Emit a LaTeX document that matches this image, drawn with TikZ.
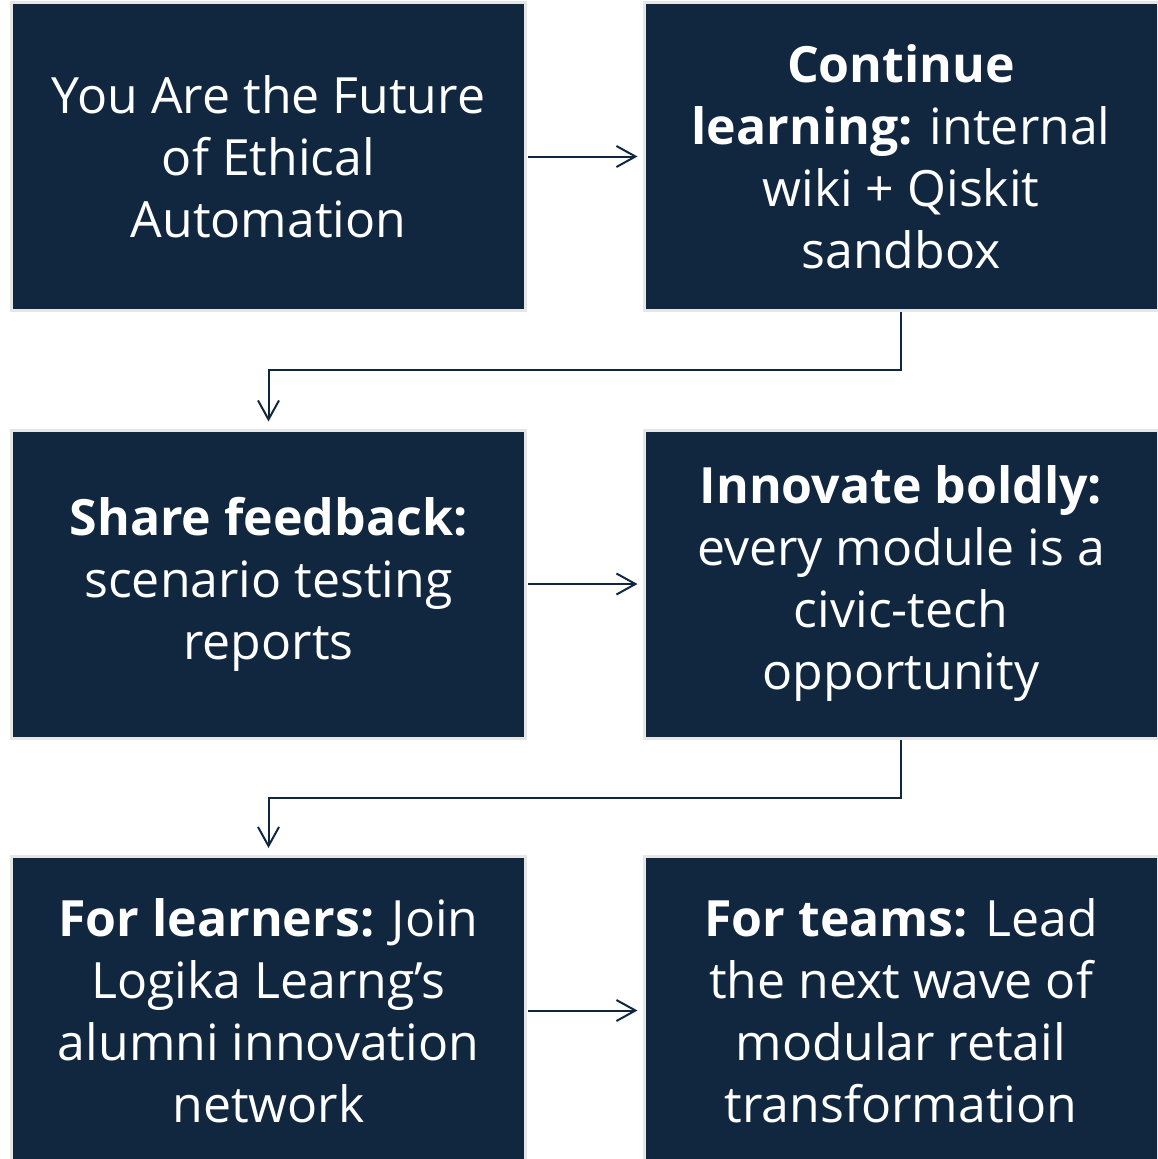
\documentclass[tikz,border=0pt]{standalone}
\usepackage{fontspec}
\setmainfont{Open Sans}
\usetikzlibrary{arrows.meta}
\definecolor{navy}{HTML}{10273F}
\definecolor{rim}{HTML}{E6E6E6}
\begin{document}
\begin{tikzpicture}[x=1pt,y=-1pt,
  card/.style={fill=navy,draw=rim,line width=3pt,minimum width=514pt,
    minimum height=308pt,inner sep=0pt,text=white,align=center,
    font=\fontsize{50}{62}\selectfont},
  flow/.style={draw=navy,line width=2pt,-{Straight Barb[length=19pt,width=21pt,line width=2pt]}}]
\useasboundingbox (0,0) rectangle (1158,1159);
\node[card]
(future) at (268.5,156.5) {You Are the Future\\of Ethical\\Automation};
\node[card]
(learn) at (901,156.5) {\textbf{Continue}\\\textbf{learning:} internal\\wiki + Qiskit\\sandbox};
\node[card]
(share) at (268.5,584) {\textbf{Share feedback:}\\scenario testing\\reports};
\node[card]
(innov) at (901,584) {\textbf{Innovate boldly:}\\every module is a\\civic-tech\\opportunity};
\node[card]
(learners) at (268.5,1010.5) {\textbf{For learners:} Join\\Logika Learng’s\\alumni innovation\\network};
\node[card]
(teams) at (901,1010.5) {\textbf{For teams:} Lead\\the next wave of\\modular retail\\transformation};
\draw[flow,shorten <=1pt,shorten >=5pt](future) -- (learn);
\draw[flow,shorten <=1pt,shorten >=5pt](share) -- (innov);
\draw[flow,shorten <=1pt,shorten >=5pt](learners) -- (teams);
\draw[flow,shorten >=7pt](learn.south) -- ++(0,58) -| (share.north);
\draw[flow,shorten >=7pt](innov.south) -- ++(0,58) -| (learners.north);
\end{tikzpicture}
\end{document}
